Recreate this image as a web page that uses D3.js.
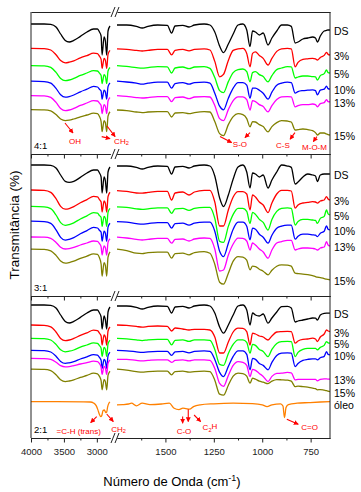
<!DOCTYPE html>
<html>
<head>
<meta charset="utf-8">
<script src="https://cdn.jsdelivr.net/npm/d3@7"></script>
<style>
  body { margin: 0; background: #fff; }
  svg text { font-family: "Liberation Sans", Arial, sans-serif; }
</style>
</head>
<body>
<div id="chart"></div>
<script>
// wavenumber grids (cm-1), left and right of the axis break
const wnLeft = [4000, 3800, 3700, 3620, 3550, 3480, 3420, 3350, 3250, 3150, 3050, 2990, 2960, 2935, 2920, 2890, 2870, 2850, 2830, 2800];
const wnRight = [1750, 1700, 1650, 1620, 1590, 1540, 1490, 1468, 1450, 1410, 1378, 1350, 1300, 1270, 1245, 1220, 1200, 1175, 1150, 1125, 1100, 1080, 1063, 1050, 1035, 1015, 995, 970, 950, 925, 900, 870, 850, 830, 815, 790, 765, 740, 725, 715, 700, 680, 668, 660, 650];

const seriesNames = ['DS', '3%', '5%', '10%', '13%', '15%'];
const seriesColors = ['#000000', '#ff0000', '#00ff00', '#0000ff', '#ff00ff', '#808000'];
const ratios = ['4:1', '3:1', '2:1'];

const xTicksMajorL = [4000, 3500, 3000];
const xTicksMinorL = [3750, 3250];
const xTicksMajorR = [1500, 1250, 1000, 750];
const xTicksMinorR = [1625, 1375, 1125, 875];

// transmittance (offset, a.u.) — 4:1
const ds41 = [65, 65, 64.8, 63.5, 60, 56.8, 56, 56.8, 58.8, 61, 62.5, 62.5, 61, 59, 49.5, 58.5, 56.5, 49.5, 61.5, 64,
  64.5, 64.5, 63.8, 63, 63.8, 64.5, 64.3, 60.5, 64, 64.3, 63.5, 64.5, 65, 64.5, 61, 54, 50.7, 55, 60, 64.5, 65, 62, 53.7, 61.5, 61, 59.5, 60.5, 54.5, 58, 61.5, 64.5, 64.5, 63.8, 55.5, 56, 57.5, 58, 58.5, 58, 56, 59, 61.5, 61.8, 62, 62];
const p41_3 = [52.8, 52.7, 52, 49.6, 46.7, 45.6, 45.9, 46.6, 48.1, 49.2, 50.4, 50.2, 48.9, 47.3, 42.8, 47.8, 46.8, 42.8, 49.8, 51.8,
  52.6, 52.3, 51.8, 51.5, 51.8, 52.3, 52.3, 49.6, 51.8, 52.3, 51.6, 52.3, 52.6, 52, 46.3, 38.6, 39.8, 46.8, 51.8, 52.6, 52.8, 50.3, 43.6, 50.3, 51.1, 49.3, 47.8, 44.5, 47.8, 51.3, 52.6, 52.8, 52.6, 43.6, 45.8, 47.3, 47.6, 47.8, 47.6, 47, 48.3, 49.3, 50.8, 49.8, 49.5];
const p41_5 = [44.2, 44.1, 43.3, 40.8, 37.8, 36.7, 37, 37.8, 39.3, 40.5, 41.7, 41.5, 40.4, 39.3, 35.2, 39.7, 38.8, 35.2, 41.5, 43.3,
  44.2, 43.8, 43.2, 42.9, 43.2, 43.7, 43.6, 40.5, 43, 43.5, 42.7, 43.5, 43.7, 42.8, 38.2, 31.7, 30.7, 36.2, 40.7, 42.2, 42.5, 41.2, 36.1, 40.7, 41.2, 39.7, 38.7, 36.1, 39.2, 42.2, 43, 43.7, 43.6, 38, 38.5, 39, 39, 38.7, 38.6, 37, 39.2, 40.2, 42, 40.7, 40.5];
const p41_10 = [36.4, 36.2, 35.4, 32.8, 29.6, 28.4, 28.7, 29.5, 31.1, 32.4, 33.8, 33.5, 32.4, 31.5, 27.4, 31.9, 31, 27.4, 33.7, 35.5,
  36.4, 36, 35.4, 34.9, 35.4, 35.9, 35.9, 32.9, 35.2, 35.7, 34.9, 35.7, 35.9, 35.4, 30.4, 23.9, 22.1, 27.9, 32.9, 35.7, 35.7, 34.4, 27.9, 32.9, 32.9, 31.9, 30.4, 27.4, 30.9, 34.4, 35.4, 35.9, 35.7, 30.4, 31.2, 31.7, 31.9, 32.1, 31.7, 29.6, 31.9, 32.4, 33.9, 32.7, 32.4];
const p41_13 = [29.2, 29.1, 28.3, 25.8, 22.8, 21.7, 22, 22.8, 24.3, 25.5, 26.7, 26.5, 25.4, 24.3, 20.2, 24.7, 23.8, 20.2, 26.5, 28.3,
  29.2, 28.8, 28.2, 28, 28.2, 28.7, 28.7, 26.2, 28.2, 28.5, 27.7, 28.5, 28.7, 28.5, 24.2, 17.7, 16.7, 22.2, 26.7, 28.6, 28.6, 27.2, 22, 26.7, 26.2, 24.7, 23.7, 21.1, 24.2, 27.2, 28.6, 28.7, 28.6, 23.6, 24.2, 24.7, 24.7, 25, 24.7, 23.6, 25.2, 25.7, 27.2, 26.2, 26.1];
const p41_15 = [22.2, 22.1, 21.6, 19.7, 17.5, 16.7, 16.9, 17.5, 18.6, 19.5, 20.4, 20.2, 18.8, 16.2, 11.2, 16.7, 15.6, 11.2, 18.9, 21.1,
  22, 21.7, 21, 20.7, 21, 21.2, 21.2, 18.5, 20.5, 20.7, 20.2, 20.7, 21.2, 21, 16.2, 10.2, 9.2, 14.7, 18.7, 20.2, 19.7, 17.7, 13.6, 16.2, 16, 14.7, 13.7, 11.1, 13.7, 15.7, 16.7, 16.5, 16, 12, 12.2, 12.5, 12.2, 11.7, 10.7, 9.5, 10.5, 10.5, 10, 9.7, 9.5];

// 3:1
const ds31 = [65.5, 65.5, 65.3, 64, 60.5, 57.3, 56.8, 57.3, 59.3, 61.5, 63, 63, 61.5, 59.5, 51.5, 59.5, 57.5, 51.5, 62, 64.5,
  65, 65, 64.3, 63.5, 64.3, 65, 64.8, 61, 64.5, 64.8, 64, 65, 65.5, 65, 60, 49, 44.7, 50.5, 58.5, 64.5, 65.5, 62, 54, 61.5, 61, 59.5, 60.5, 54, 58, 62, 65.5, 65, 64.3, 56, 57, 59.5, 61, 60.5, 60, 57.2, 60.5, 61, 61, 61, 61];
const p31_3 = [53, 52.8, 51.8, 48.7, 44.8, 43.4, 43.7, 44.7, 46.6, 48.2, 49.8, 49.6, 48.2, 47, 42, 47.5, 46.4, 42, 49.7, 51.9,
  52.7, 52.3, 51.5, 51.4, 51.8, 52.3, 52.3, 48, 51.5, 52, 50.5, 52, 52.8, 52.8, 47, 35, 35, 43, 49.5, 52.2, 52.2, 51, 43, 50.5, 49.5, 47, 45.5, 41.7, 46.5, 51, 52.8, 52.8, 52.5, 43.9, 45.5, 46.5, 46.8, 47.2, 47, 46.4, 47.5, 48, 49.7, 48.5, 48];
const p31_5 = [44.8, 44.6, 43.7, 40.5, 36.7, 35.3, 35.7, 36.6, 38.5, 40.1, 41.7, 41.4, 40.2, 39.3, 34.8, 39.8, 38.8, 34.8, 41.8, 43.8,
  44.6, 44.3, 43.6, 43.3, 43.6, 44.1, 44.1, 41.3, 43.6, 43.8, 42.8, 43.8, 44.3, 44.3, 38.8, 27.3, 26.8, 34.8, 40.8, 43.8, 43.8, 42.3, 36.3, 41.8, 40.8, 38.3, 36.8, 33, 38.3, 42.3, 43.8, 44.1, 43.8, 35.5, 37.3, 38.3, 38.3, 38, 37.8, 36.3, 38.8, 39.8, 43, 41.1, 40.5];
const p31_10 = [37.4, 37.2, 36.3, 33.1, 29.3, 27.9, 28.3, 29.2, 31.1, 32.7, 34.3, 34, 32.8, 31.9, 27.4, 32.4, 31.4, 27.4, 34.4, 36.4,
  37.2, 36.9, 36.2, 35.9, 36.2, 36.7, 36.7, 33.9, 36.2, 36.4, 35.4, 36.4, 36.9, 36.9, 32.4, 22.4, 19.7, 26.4, 33.4, 36.9, 36.9, 34.9, 28.1, 33.9, 33.4, 30.9, 29.4, 26.4, 30.4, 33.9, 34.9, 35.4, 35.4, 28.4, 29.9, 30.9, 30.9, 30.6, 30.4, 29.7, 31.4, 32.4, 35.1, 33.4, 33.1];
const p31_13 = [29.5, 29.4, 28.8, 26.8, 24.4, 23.5, 23.7, 24.3, 25.5, 26.5, 27.5, 27.3, 26.2, 24.6, 20.5, 25, 24.1, 20.5, 26.8, 28.6,
  29.4, 29, 28.3, 28, 28.3, 28.8, 28.8, 26.4, 28.3, 28.5, 27.5, 28.5, 29, 28.8, 23.5, 12.5, 13, 20.5, 26, 28.9, 28.8, 27.5, 23, 26.5, 25.5, 23.5, 22, 18.9, 23, 26.5, 27.2, 27.8, 27.8, 23, 23.5, 24, 24, 23.8, 23.5, 23, 24, 24.5, 27.2, 25.5, 25];
const p31_15 = [23.4, 23.3, 22.6, 20.3, 17.5, 16.4, 16.7, 17.4, 18.8, 19.9, 21.1, 20.8, 19.1, 16, 9.9, 16.7, 15.3, 9.9, 19.4, 22.1,
  23.4, 22.7, 21.4, 21.2, 21.7, 21.9, 21.9, 18.9, 21.2, 21.4, 20.6, 21.7, 22.2, 21.4, 15.9, 6.9, 5.9, 11.4, 17.4, 19.7, 19.4, 17.9, 13.1, 14.9, 14.7, 13.4, 12.4, 10.6, 12.9, 14.9, 15.6, 15.4, 14.9, 11.4, 11.2, 10.9, 10.7, 10.2, 9.7, 9.4, 9.2, 8.7, 8.4, 8.3, 8.1];

// 2:1
const ds21 = [66.5, 66.5, 66.3, 65, 61.5, 58.3, 57.5, 58.3, 60.3, 62.5, 64, 64, 62.5, 60.5, 54.5, 61, 59, 54.5, 63, 65.5,
  66, 66, 65.3, 64.5, 65.3, 66, 65.8, 62.5, 65.5, 65.8, 65, 66, 66.5, 66, 62.5, 55.5, 52.4, 56.5, 61.5, 66, 66.5, 64, 56.5, 62.5, 61.5, 61, 62, 57.4, 60, 63, 65.7, 65.8, 65, 58, 58.5, 59, 59.5, 60, 59.9, 59, 61.5, 62.3, 62.4, 62.4, 62.4];
const p21_3 = [56.5, 56.3, 55.6, 53, 49.8, 48.7, 49, 49.8, 51.3, 52.6, 53.9, 53.7, 52.4, 51, 46.5, 51.5, 50.5, 46.5, 53.5, 55.5,
  56.5, 56.3, 55.8, 55.4, 55.8, 56, 55.8, 53.5, 55, 54.5, 54, 54.3, 54.3, 54, 50.5, 42.5, 42.5, 48, 53, 54.9, 54.8, 53.2, 46.5, 52.4, 52, 51, 50.5, 49, 51, 53, 53.2, 53.3, 53.2, 47.4, 48.5, 49.3, 49.5, 49.9, 49.5, 48.2, 50.5, 52, 54, 53.5, 53.2];
const p21_5 = [49.8, 49.7, 49, 46.8, 44.1, 43.1, 43.4, 44, 45.4, 46.5, 47.6, 47.3, 46.2, 44.9, 40.8, 45.3, 44.4, 40.8, 47.1, 48.9,
  49.8, 49.6, 49.1, 48.7, 49.1, 49.3, 49.3, 46.6, 48.8, 49.1, 48.3, 49.1, 49.1, 48.8, 44.3, 36.8, 36.3, 42.3, 46.8, 49.1, 49.1, 47.8, 42.4, 46.8, 46.3, 44.3, 43.3, 40.7, 44.3, 47.3, 48.2, 48.3, 48.2, 40.7, 42.8, 44.3, 44.8, 44.8, 44.8, 44.1, 45.3, 46.3, 48.2, 47.6, 47.4];
const p21_10 = [43.8, 43.7, 43, 40.9, 38.3, 37.3, 37.6, 38.2, 39.5, 40.6, 41.7, 41.4, 40.3, 38.9, 34.8, 39.3, 38.4, 34.8, 41.1, 42.9,
  43.8, 43.6, 43.1, 42.8, 43.1, 43.3, 43.3, 41.3, 43.1, 43.3, 42.6, 43.3, 43.6, 43.3, 39.3, 32.8, 30.7, 35.8, 40.8, 43.6, 43.6, 41.8, 34.1, 39.8, 39.3, 37.3, 36.3, 34.1, 37.8, 41.3, 42.4, 42.6, 42.4, 35.7, 37.3, 38.8, 39.3, 39.6, 39.6, 39.1, 40.1, 40.8, 43.2, 41.8, 41.6];
const p21_13 = [39.8, 39.7, 39.3, 37.9, 36.2, 35.6, 35.7, 36.2, 37, 37.7, 38.4, 38.2, 37.2, 35.4, 31.8, 35.8, 35, 31.8, 37.4, 39,
  39.3, 39.3, 38.8, 38.6, 38.8, 39.1, 39.1, 37.8, 38.8, 39.1, 38.6, 39.1, 39.1, 38.8, 34.8, 27.3, 25.8, 31.3, 36.3, 38.2, 37.8, 36.3, 30.7, 34.3, 33.8, 32.3, 30.8, 28.2, 30.8, 32.3, 32.4, 32.8, 32.6, 29.1, 29.3, 29.3, 29.3, 29.3, 29.3, 28.6, 29.3, 29.6, 29.6, 29.4, 29.4];
const p21_15 = [34.4, 34.3, 33.7, 31.6, 29.1, 28.2, 28.5, 29.1, 30.3, 31.3, 32.4, 32.1, 30.8, 28.7, 24.1, 29.2, 28.2, 24.1, 31.3, 33.4,
  34.4, 33.9, 33.2, 32.9, 33.2, 33.4, 33.4, 31.6, 33.2, 33.4, 32.9, 33.2, 33.4, 33.2, 28.9, 21.9, 21.4, 26.4, 30.9, 32.4, 32.2, 30.9, 27.4, 29.9, 29.4, 28.4, 27.9, 27.2, 28.4, 29.2, 29.1, 28.9, 28.4, 25.7, 25.9, 25.7, 25.4, 24.9, 24.7, 24.1, 24.2, 23.9, 23.7, 23.4, 23.2];

// óleo (own grid)
const wnOilLeft = [4000, 3600, 3200, 3100, 3050, 3010, 2985, 2960, 2940, 2925, 2905, 2885, 2865, 2850, 2835, 2815, 2800];
const oilLeft = [18.2, 18.2, 18.1, 18, 17.5, 16.2, 14.2, 11.7, 10.7, 11.2, 13.7, 14, 12.7, 13, 15.7, 17.5, 18];
const wnOilRight = [1750, 1720, 1690, 1675, 1650, 1620, 1580, 1520, 1480, 1455, 1430, 1410, 1395, 1375, 1355, 1320, 1250, 1150, 1050, 1000, 975, 950, 905, 893, 885, 877, 865, 820, 760, 700, 650];
const oilRight = [16.6, 16.7, 17, 17.4, 16.1, 17.4, 16.7, 17, 17.4, 14.9, 14.2, 14.9, 14.7, 14.4, 15.7, 16.6, 17.1, 17.4, 17.2, 16.6, 15.7, 16.6, 17.1, 16, 10.2, 15.2, 16.7, 17.4, 17.7, 18, 18.2];

// band assignments: [text, wavenumber, value] and arrows [wn1, v1, wn2, v2]
const notes41 = [['OH', 3332, 6.6], ['CH_2', 1727, 6.6], ['S-O', 1115, 5], ['C-S', 893, 4.2], ['M-O-M', 730, 3.4]];
const arrows41 = [[3484, 15.5, 3362, 10.5], [2845, 14, 1760, 8.7], [2926, 8.7, 2800, 7.7], [1218, 8.7, 1158, 5.7],
  [1063, 10.7, 1089, 8.2], [831, 10.7, 856, 7.4], [718, 8.7, 736, 6.2]];
const notes21 = [['=C-H (trans)', 3275, 3.5], ['CH_2', 1742, 4.5], ['C-O', 1404, 3.2], ['C_2H', 1270, 5.4], ['C=O', 755, 5.2]];
const arrows21 = [[3002, 10.7, 3093, 7.7], [2850, 12, 2750, 8.2], [1411, 10.7, 1411, 7.4], [1382, 14.4, 1382, 8.2],
  [1352, 11.5, 1318, 8.2], [873, 9.4, 814, 6.9]];

const width = 361, height = 492;
const plotLeft = 31, plotRight = 330, plotTop = 12, panelH = 142;
const breakL = 110, breakR = 117;

const xL = d3.scaleLinear().domain([4000, 2800]).range([plotLeft, breakL]);
const xR = d3.scaleLinear().domain([1750, 650]).range([breakR, plotRight]);
const xs = wn => (wn > 2200 ? xL(wn) : xR(wn));

const svg = d3.select('#chart').append('svg')
    .attr('width', width)
    .attr('height', height);

svg.append('defs').append('marker')
    .attr('id', 'arrow')
    .attr('viewBox', '0 0 8 8')
    .attr('refX', 7).attr('refY', 4)
    .attr('markerWidth', 5).attr('markerHeight', 5)
    .attr('markerUnits', 'userSpaceOnUse')
    .attr('orient', 'auto')
  .append('path')
    .attr('d', 'M0,0 L8,4 L0,8 Z')
    .attr('fill', '#ff0000');

const panels = [
  {curves: [ds41, p41_3, p41_5, p41_10, p41_13, p41_15], notes: notes41, arrows: arrows41},
  {curves: [ds31, p31_3, p31_5, p31_10, p31_13, p31_15], notes: [], arrows: []},
  {curves: [ds21, p21_3, p21_5, p21_10, p21_13, p21_15], notes: notes21, arrows: arrows21, oil: true}
];

const nLeft = wnLeft.length;

function addLabel(sel, txt) {
  // '_' marks a one-character subscript
  const parts = txt.split('_');
  sel.text(parts[0]);
  parts.slice(1).forEach(p => {
    sel.append('tspan').attr('font-size', '0.7em').attr('dy', '0.3em').text(p[0]);
    if (p.length > 1) sel.append('tspan').attr('dy', '-0.3em').text(p.slice(1));
  });
}

panels.forEach((p, i) => {
  const top = plotTop + i * panelH;
  const bottom = top + panelH;
  const y = d3.scaleLinear().domain([0, 71]).range([bottom, top]);
  const g = svg.append('g');

  const drawSeg = (xsc, wn, vals, color) => {
    g.append('path')
        .datum(vals.map((v, j) => [wn[j], v]))
        .attr('fill', 'none')
        .attr('stroke', color)
        .attr('stroke-width', 1.3)
        .attr('stroke-linejoin', 'round')
        .attr('d', d3.line().x(d => xsc(d[0])).y(d => y(d[1])).curve(d3.curveMonotoneX));
  };

  p.curves.forEach((vals, k) => {
    drawSeg(xL, wnLeft, vals.slice(0, nLeft), seriesColors[k]);
    drawSeg(xR, wnRight, vals.slice(nLeft), seriesColors[k]);
    g.append('text')
        .attr('x', plotRight + 4)
        .attr('y', y(vals[vals.length - 1]))
        .attr('dy', '0.5em')
        .attr('font-size', 10.5)
        .text(seriesNames[k]);
  });

  if (p.oil) {
    drawSeg(xL, wnOilLeft, oilLeft, '#ff8000');
    drawSeg(xR, wnOilRight, oilRight, '#ff8000');
    g.append('text')
        .attr('x', plotRight + 4)
        .attr('y', y(oilRight[oilRight.length - 1]))
        .attr('dy', '0.7em')
        .attr('font-size', 10.5)
        .text('óleo');
  }

  p.arrows.forEach(a => {
    g.append('line')
        .attr('x1', xs(a[0])).attr('y1', y(a[1]))
        .attr('x2', xs(a[2])).attr('y2', y(a[3]))
        .attr('stroke', '#ff0000')
        .attr('stroke-width', 1.1)
        .attr('marker-end', 'url(#arrow)');
  });

  p.notes.forEach(n => {
    g.append('text')
        .attr('x', xs(n[1]))
        .attr('y', y(n[2]))
        .attr('dy', '0.35em')
        .attr('text-anchor', 'middle')
        .attr('font-size', 8)
        .attr('fill', '#ff0000')
        .call(addLabel, n[0]);
  });

  g.append('text')
      .attr('x', plotLeft + 3)
      .attr('y', bottom - 5)
      .attr('font-size', 9.5)
      .text(ratios[i]);

  // frame
  [[xL, xTicksMajorL, xTicksMinorL], [xR, xTicksMajorR, xTicksMinorR]].forEach(([xsc, major, minor]) => {
    g.append('g')
        .attr('transform', `translate(0,${top})`)
        .call(d3.axisTop(xsc).tickValues([]).tickSizeOuter(0));
    g.append('g')
        .attr('transform', `translate(0,${bottom})`)
        .call(d3.axisBottom(xsc).tickValues(minor).tickSize(2.5).tickSizeOuter(0).tickFormat(''));
    const ax = g.append('g')
        .attr('transform', `translate(0,${bottom})`)
        .call(d3.axisBottom(xsc).tickValues(major).tickSize(4.5).tickSizeOuter(0).tickPadding(6)
          .tickFormat(i === 2 ? d3.format('d') : ''));
    ax.selectAll('text').attr('font-family', '"Liberation Sans", Arial, sans-serif').attr('font-size', 9.5).attr('fill', '#222');
  });
  g.selectAll('.domain, .tick line').attr('stroke', '#222');

  g.append('line').attr('x1', plotLeft).attr('x2', plotLeft).attr('y1', top).attr('y2', bottom).attr('stroke', '#222');
  g.append('line').attr('x1', plotRight).attr('x2', plotRight).attr('y1', top).attr('y2', bottom).attr('stroke', '#222');
});

// axis break marks
d3.range(4).forEach(i => {
  const yy = plotTop + i * panelH;
  [0, 4].forEach(dx => {
    svg.append('line')
        .attr('x1', breakL + 1 + dx).attr('y1', yy + 5)
        .attr('x2', breakL + 5 + dx).attr('y2', yy - 5)
        .attr('stroke', '#222')
        .attr('stroke-width', 1);
  });
});

const xTitle = svg.append('text')
    .attr('x', 172)
    .attr('y', 486)
    .attr('text-anchor', 'middle')
    .attr('font-size', 13);
xTitle.append('tspan').text('Número de Onda (cm');
xTitle.append('tspan').attr('font-size', 9).attr('dy', -5).text('-1');
xTitle.append('tspan').attr('dy', 5).text(')');

svg.append('text')
    .attr('transform', `translate(14,${plotTop + 1.5 * panelH}) rotate(-90)`)
    .attr('text-anchor', 'middle')
    .attr('dy', '0.35em')
    .attr('font-size', 13.5)
    .text('Transmitância (%)');
</script>
</body>
</html>
